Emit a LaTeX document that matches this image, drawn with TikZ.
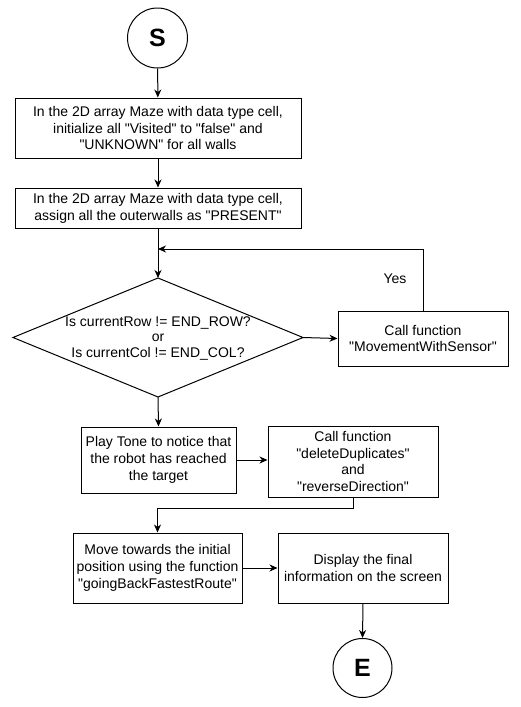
\documentclass[tikz,border=0pt]{standalone}
\usepackage{fontspec}
\setmainfont{Liberation Sans}[Ligatures=TeXOff]
\usetikzlibrary{arrows.meta}
\begin{document}
\begin{tikzpicture}[x=1pt,y=-1pt,line width=1pt,
  every node/.style={font=\fontsize{14}{16.8}\selectfont},
  box/.style={draw,rectangle,align=center,inner sep=2pt},
  term/.style={draw,circle,inner sep=0pt,font=\fontsize{25}{28}\selectfont\bfseries},
  arr/.style={-{Stealth[length=8pt,width=7pt,inset=2.5pt]}}]
\useasboundingbox[fill=white] (0,0) rectangle (520,707);
\node[term,minimum size=60pt] (S) at (157.5,38) {S};
\node[box,minimum width=286pt,minimum height=60pt] (b1) at (158,128)
  {In the 2D array Maze with data type cell,\\initialize all "Visited" to "false" and\\"UNKNOWN" for all walls};
\node[box,minimum width=286pt,minimum height=40pt] (b2) at (158,208)
  {In the 2D array Maze with data type cell,\\assign all the outerwalls as "PRESENT"};
\coordinate (dt) at (158,278);
\coordinate (dr) at (303,337.5);
\coordinate (db) at (158,397);
\coordinate (dl) at (13,337.5);
\draw (dt) -- (dr) -- (db) -- (dl) -- cycle;
\node[align=center,font=\fontsize{14}{15.5}\selectfont] (dec) at (158,338)
  {Is currentRow != END\_ROW?\\or\\Is currentCol != END\_COL?};
\node[box,minimum width=170pt,minimum height=55pt] (call1) at (423,338.5)
  {Call function\\"MovementWithSensor"};
\node (yes) at (395,279) {Yes};
\coordinate (loop) at (158,249);
\node[box,minimum width=155pt,minimum height=66pt] (play) at (158.5,460)
  {Play Tone to notice that\\the robot has reached\\the target};
\node[box,minimum width=170pt,minimum height=71pt] (call2) at (353,461.5)
  {Call function\\"deleteDuplicates"\\and\\"reverseDirection"};
\coordinate (mid) at (157.5,508);
\node[box,minimum width=169pt,minimum height=70pt] (move) at (157.5,568)
  {Move towards the initial\\position using the function\\"goingBackFastestRoute"};
\node[box,minimum width=170pt,minimum height=70pt] (disp) at (363,568)
  {Display the final\\information on the screen};
\node[term,minimum size=59pt] (E) at (362.5,668) {E};
\draw[arr] (S) -- (b1);
\draw[arr] (b1) -- (b2);
\draw[arr] (b2.south) -- (dt);
\draw[arr] (call1.north) |- (loop);
\draw[arr] (dr) -- (call1.west);
\draw[arr] (db) -- (play.north);
\draw[arr] (play.east) -- (play.east -| call2.west);
\draw[arr] (call2.south) |- (mid) -- (move.north);
\draw[arr] (move.east) -- (disp.west);
\draw[arr] (disp.south) -- (E.north);
\end{tikzpicture}
\end{document}
